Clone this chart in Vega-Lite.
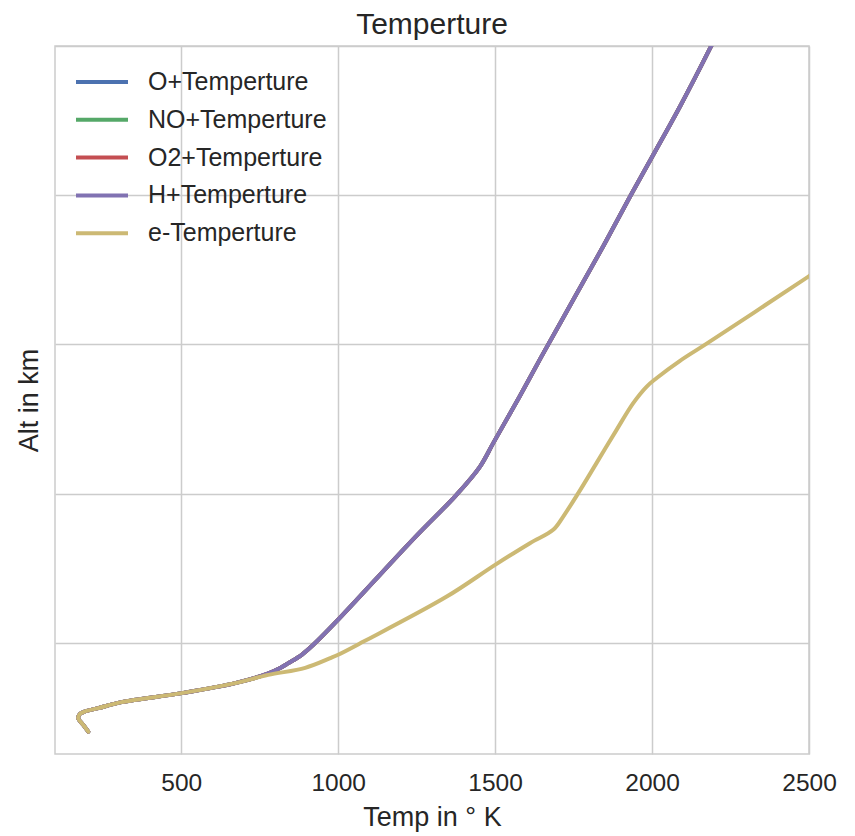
{
  "$schema": "https://vega.github.io/schema/vega-lite/v6.json",
  "width": 754,
  "height": 708,
  "autosize": {"type": "none"},
  "padding": {"left": 55, "top": 46, "right": 46, "bottom": 82},
  "background": "white",
  "title": {
    "text": "Temperture",
    "font": "Liberation Sans",
    "fontSize": 30,
    "fontWeight": "normal",
    "color": "#262626",
    "anchor": "middle",
    "frame": "group",
    "baseline": "bottom",
    "offset": 8,
    "dy": 32
  },
  "config": {
    "view": {"stroke": "#cccccc", "strokeWidth": 1.5},
    "axis": {
      "grid": true,
      "gridColor": "#cccccc",
      "gridWidth": 1.5,
      "domain": false,
      "ticks": false,
      "labelFont": "Liberation Sans",
      "labelFontSize": 24.5,
      "labelColor": "#262626",
      "titleFont": "Liberation Sans",
      "titleFontSize": 27,
      "titleFontWeight": "normal",
      "titleColor": "#262626"
    },
    "legend": {
      "orient": "none",
      "legendX": 32,
      "legendY": 21,
      "padding": 0,
      "symbolType": "M-2,0H2",
      "symbolSize": 676,
      "symbolStrokeWidth": 4,
      "labelFont": "Liberation Sans",
      "labelFontSize": 25,
      "labelColor": "#262626",
      "labelOffset": 31,
      "labelLimit": 400,
      "rowPadding": 9.8
    }
  },
  "datasets": {
    "profiles": [
      {"series": "O+Temperture", "temp": 204, "alt": 81},
      {"series": "O+Temperture", "temp": 188, "alt": 90},
      {"series": "O+Temperture", "temp": 172, "alt": 99},
      {"series": "O+Temperture", "temp": 177, "alt": 104.6},
      {"series": "O+Temperture", "temp": 193, "alt": 108},
      {"series": "O+Temperture", "temp": 236, "alt": 112.5},
      {"series": "O+Temperture", "temp": 310, "alt": 120.5},
      {"series": "O+Temperture", "temp": 502, "alt": 132.6},
      {"series": "O+Temperture", "temp": 672, "alt": 146},
      {"series": "O+Temperture", "temp": 778, "alt": 159},
      {"series": "O+Temperture", "temp": 814, "alt": 166},
      {"series": "O+Temperture", "temp": 842, "alt": 173},
      {"series": "O+Temperture", "temp": 884, "alt": 184},
      {"series": "O+Temperture", "temp": 920, "alt": 197},
      {"series": "O+Temperture", "temp": 1000, "alt": 231},
      {"series": "O+Temperture", "temp": 1187, "alt": 315.6},
      {"series": "O+Temperture", "temp": 1260, "alt": 348},
      {"series": "O+Temperture", "temp": 1377, "alt": 398.4},
      {"series": "O+Temperture", "temp": 1452, "alt": 436.3},
      {"series": "O+Temperture", "temp": 1494, "alt": 467.7},
      {"series": "O+Temperture", "temp": 1579, "alt": 531},
      {"series": "O+Temperture", "temp": 1648, "alt": 584},
      {"series": "O+Temperture", "temp": 1749, "alt": 659.8},
      {"series": "O+Temperture", "temp": 1844, "alt": 731.2},
      {"series": "O+Temperture", "temp": 1930, "alt": 798.2},
      {"series": "O+Temperture", "temp": 2004, "alt": 854.1},
      {"series": "O+Temperture", "temp": 2089, "alt": 918.9},
      {"series": "O+Temperture", "temp": 2185, "alt": 997.1},
      {"series": "O+Temperture", "temp": 2200, "alt": 1010},

      {"series": "NO+Temperture", "temp": 204, "alt": 81},
      {"series": "NO+Temperture", "temp": 188, "alt": 90},
      {"series": "NO+Temperture", "temp": 172, "alt": 99},
      {"series": "NO+Temperture", "temp": 177, "alt": 104.6},
      {"series": "NO+Temperture", "temp": 193, "alt": 108},
      {"series": "NO+Temperture", "temp": 236, "alt": 112.5},
      {"series": "NO+Temperture", "temp": 310, "alt": 120.5},
      {"series": "NO+Temperture", "temp": 502, "alt": 132.6},
      {"series": "NO+Temperture", "temp": 672, "alt": 146},
      {"series": "NO+Temperture", "temp": 778, "alt": 159},
      {"series": "NO+Temperture", "temp": 814, "alt": 166},
      {"series": "NO+Temperture", "temp": 842, "alt": 173},
      {"series": "NO+Temperture", "temp": 884, "alt": 184},
      {"series": "NO+Temperture", "temp": 920, "alt": 197},
      {"series": "NO+Temperture", "temp": 1000, "alt": 231},
      {"series": "NO+Temperture", "temp": 1187, "alt": 315.6},
      {"series": "NO+Temperture", "temp": 1260, "alt": 348},
      {"series": "NO+Temperture", "temp": 1377, "alt": 398.4},
      {"series": "NO+Temperture", "temp": 1452, "alt": 436.3},
      {"series": "NO+Temperture", "temp": 1494, "alt": 467.7},
      {"series": "NO+Temperture", "temp": 1579, "alt": 531},
      {"series": "NO+Temperture", "temp": 1648, "alt": 584},
      {"series": "NO+Temperture", "temp": 1749, "alt": 659.8},
      {"series": "NO+Temperture", "temp": 1844, "alt": 731.2},
      {"series": "NO+Temperture", "temp": 1930, "alt": 798.2},
      {"series": "NO+Temperture", "temp": 2004, "alt": 854.1},
      {"series": "NO+Temperture", "temp": 2089, "alt": 918.9},
      {"series": "NO+Temperture", "temp": 2185, "alt": 997.1},
      {"series": "NO+Temperture", "temp": 2200, "alt": 1010},

      {"series": "O2+Temperture", "temp": 204, "alt": 81},
      {"series": "O2+Temperture", "temp": 188, "alt": 90},
      {"series": "O2+Temperture", "temp": 172, "alt": 99},
      {"series": "O2+Temperture", "temp": 177, "alt": 104.6},
      {"series": "O2+Temperture", "temp": 193, "alt": 108},
      {"series": "O2+Temperture", "temp": 236, "alt": 112.5},
      {"series": "O2+Temperture", "temp": 310, "alt": 120.5},
      {"series": "O2+Temperture", "temp": 502, "alt": 132.6},
      {"series": "O2+Temperture", "temp": 672, "alt": 146},
      {"series": "O2+Temperture", "temp": 778, "alt": 159},
      {"series": "O2+Temperture", "temp": 814, "alt": 166},
      {"series": "O2+Temperture", "temp": 842, "alt": 173},
      {"series": "O2+Temperture", "temp": 884, "alt": 184},
      {"series": "O2+Temperture", "temp": 920, "alt": 197},
      {"series": "O2+Temperture", "temp": 1000, "alt": 231},
      {"series": "O2+Temperture", "temp": 1187, "alt": 315.6},
      {"series": "O2+Temperture", "temp": 1260, "alt": 348},
      {"series": "O2+Temperture", "temp": 1377, "alt": 398.4},
      {"series": "O2+Temperture", "temp": 1452, "alt": 436.3},
      {"series": "O2+Temperture", "temp": 1494, "alt": 467.7},
      {"series": "O2+Temperture", "temp": 1579, "alt": 531},
      {"series": "O2+Temperture", "temp": 1648, "alt": 584},
      {"series": "O2+Temperture", "temp": 1749, "alt": 659.8},
      {"series": "O2+Temperture", "temp": 1844, "alt": 731.2},
      {"series": "O2+Temperture", "temp": 1930, "alt": 798.2},
      {"series": "O2+Temperture", "temp": 2004, "alt": 854.1},
      {"series": "O2+Temperture", "temp": 2089, "alt": 918.9},
      {"series": "O2+Temperture", "temp": 2185, "alt": 997.1},
      {"series": "O2+Temperture", "temp": 2200, "alt": 1010},

      {"series": "H+Temperture", "temp": 204, "alt": 81},
      {"series": "H+Temperture", "temp": 188, "alt": 90},
      {"series": "H+Temperture", "temp": 172, "alt": 99},
      {"series": "H+Temperture", "temp": 177, "alt": 104.6},
      {"series": "H+Temperture", "temp": 193, "alt": 108},
      {"series": "H+Temperture", "temp": 236, "alt": 112.5},
      {"series": "H+Temperture", "temp": 310, "alt": 120.5},
      {"series": "H+Temperture", "temp": 502, "alt": 132.6},
      {"series": "H+Temperture", "temp": 672, "alt": 146},
      {"series": "H+Temperture", "temp": 778, "alt": 159},
      {"series": "H+Temperture", "temp": 814, "alt": 166},
      {"series": "H+Temperture", "temp": 842, "alt": 173},
      {"series": "H+Temperture", "temp": 884, "alt": 184},
      {"series": "H+Temperture", "temp": 920, "alt": 197},
      {"series": "H+Temperture", "temp": 1000, "alt": 231},
      {"series": "H+Temperture", "temp": 1187, "alt": 315.6},
      {"series": "H+Temperture", "temp": 1260, "alt": 348},
      {"series": "H+Temperture", "temp": 1377, "alt": 398.4},
      {"series": "H+Temperture", "temp": 1452, "alt": 436.3},
      {"series": "H+Temperture", "temp": 1494, "alt": 467.7},
      {"series": "H+Temperture", "temp": 1579, "alt": 531},
      {"series": "H+Temperture", "temp": 1648, "alt": 584},
      {"series": "H+Temperture", "temp": 1749, "alt": 659.8},
      {"series": "H+Temperture", "temp": 1844, "alt": 731.2},
      {"series": "H+Temperture", "temp": 1930, "alt": 798.2},
      {"series": "H+Temperture", "temp": 2004, "alt": 854.1},
      {"series": "H+Temperture", "temp": 2089, "alt": 918.9},
      {"series": "H+Temperture", "temp": 2185, "alt": 997.1},
      {"series": "H+Temperture", "temp": 2200, "alt": 1010},

      {"series": "e-Temperture", "temp": 204, "alt": 81},
      {"series": "e-Temperture", "temp": 188, "alt": 90},
      {"series": "e-Temperture", "temp": 172, "alt": 99},
      {"series": "e-Temperture", "temp": 177, "alt": 104.6},
      {"series": "e-Temperture", "temp": 193, "alt": 108},
      {"series": "e-Temperture", "temp": 236, "alt": 112.5},
      {"series": "e-Temperture", "temp": 310, "alt": 120.5},
      {"series": "e-Temperture", "temp": 502, "alt": 132.6},
      {"series": "e-Temperture", "temp": 672, "alt": 146},
      {"series": "e-Temperture", "temp": 777, "alt": 157},
      {"series": "e-Temperture", "temp": 895, "alt": 166.5},
      {"series": "e-Temperture", "temp": 975, "alt": 179.5},
      {"series": "e-Temperture", "temp": 1000, "alt": 184},
      {"series": "e-Temperture", "temp": 1081, "alt": 201.7},
      {"series": "e-Temperture", "temp": 1346, "alt": 262},
      {"series": "e-Temperture", "temp": 1500, "alt": 304.5},
      {"series": "e-Temperture", "temp": 1611, "alt": 333.6},
      {"series": "e-Temperture", "temp": 1685, "alt": 351.5},
      {"series": "e-Temperture", "temp": 1717, "alt": 369.3},
      {"series": "e-Temperture", "temp": 1765, "alt": 400.7},
      {"series": "e-Temperture", "temp": 1823, "alt": 440.9},
      {"series": "e-Temperture", "temp": 1887, "alt": 485.5},
      {"series": "e-Temperture", "temp": 1940, "alt": 521.3},
      {"series": "e-Temperture", "temp": 1983, "alt": 543.5},
      {"series": "e-Temperture", "temp": 2015, "alt": 555},
      {"series": "e-Temperture", "temp": 2089, "alt": 578},
      {"series": "e-Temperture", "temp": 2174, "alt": 601},
      {"series": "e-Temperture", "temp": 2497, "alt": 690.6},
      {"series": "e-Temperture", "temp": 2520, "alt": 697}
    ]
  },
  "data": {"name": "profiles"},
  "encoding": {
    "x": {
      "field": "temp",
      "type": "quantitative",
      "title": "Temp in ° K",
      "scale": {"domain": [98, 2500], "nice": false, "zero": false},
      "axis": {"values": [500, 1000, 1500, 2000, 2500], "format": "d", "labelFlush": false, "labelPadding": 17, "titlePadding": 10}
    },
    "y": {
      "field": "alt",
      "type": "quantitative",
      "title": "Alt in km",
      "scale": {"domain": [51, 1000], "nice": false, "zero": false},
      "axis": {"values": [200, 400, 600, 800, 1000], "labels": false, "titlePadding": 12}
    },
    "color": {
      "field": "series",
      "type": "nominal",
      "title": null,
      "scale": {
        "domain": ["O+Temperture", "NO+Temperture", "O2+Temperture", "H+Temperture", "e-Temperture"],
        "range": ["#4C72B0", "#55A868", "#C44E52", "#8172B2", "#CCB974"]
      }
    },
    "order": {"field": "alt", "type": "quantitative"}
  },
  "layer": [
    {
      "transform": [{"filter": "datum.series !== 'H+Temperture' && datum.series !== 'e-Temperture'"}],
      "mark": {"type": "line", "strokeWidth": 4, "strokeCap": "round", "strokeJoin": "round", "interpolate": "catmull-rom", "clip": true}
    },
    {
      "transform": [{"filter": "datum.series === 'H+Temperture'"}],
      "mark": {"type": "line", "strokeWidth": 4, "strokeCap": "round", "strokeJoin": "round", "interpolate": "catmull-rom", "clip": true}
    },
    {
      "transform": [{"filter": "datum.series === 'e-Temperture'"}],
      "mark": {"type": "line", "strokeWidth": 4, "strokeCap": "round", "strokeJoin": "round", "interpolate": "catmull-rom", "clip": true}
    }
  ]
}
